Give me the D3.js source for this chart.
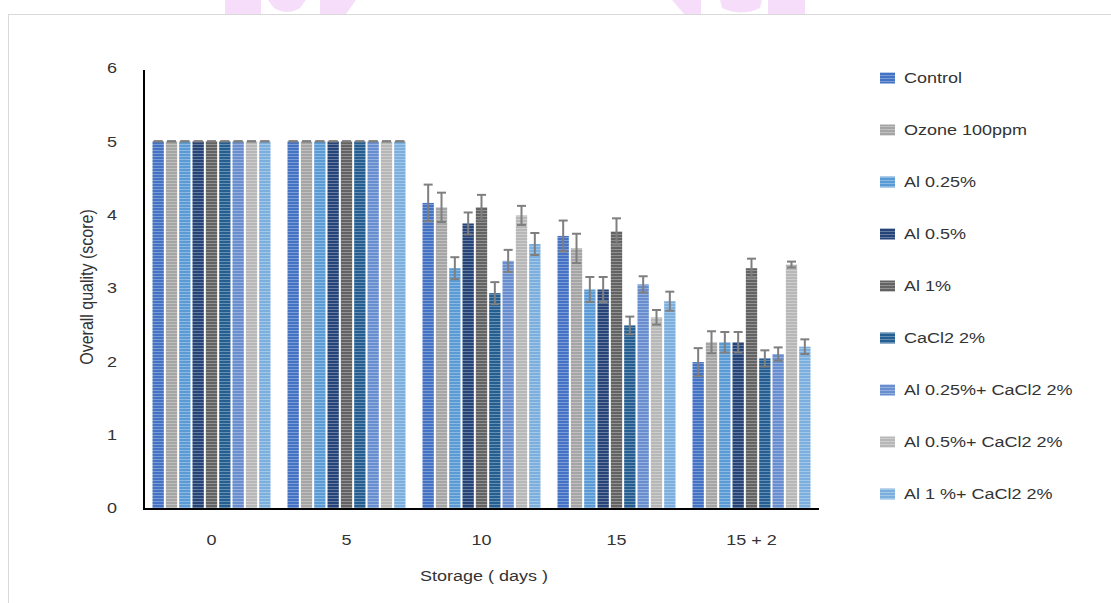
<!DOCTYPE html>
<html>
<head>
<meta charset="utf-8">
<script src="https://cdn.jsdelivr.net/npm/d3@7"></script>
<style>
  body { margin: 0; background: #fff; }
  text { font-family: "Liberation Sans", Arial, sans-serif; fill: #333; }
</style>
</head>
<body>
<svg id="chart" width="1111" height="603"></svg>
<script>
// storage days on the x axis
const days = ["0", "5", "10", "15", "15 + 2"];
const treatments = ["Control", "Ozone 100ppm", "Al 0.25%", "Al 0.5%", "Al 1%",
                    "CaCl2 2%", "Al 0.25%+ CaCl2 2%", "Al 0.5%+ CaCl2 2%", "Al 1 %+ CaCl2 2%"];
const colors = ["#4472c4", "#a5a5a5", "#5b9bd5", "#264478", "#636363",
                "#255e91", "#698ed0", "#b7b7b7", "#7cafdd"];

// mean scores per treatment, one value per storage day
const control     = [5, 5, 4.16, 3.71, 1.99];
const ozone       = [5, 5, 4.10, 3.54, 2.26];
const al025       = [5, 5, 3.27, 2.98, 2.26];
const al05        = [5, 5, 3.88, 2.98, 2.26];
const al1         = [5, 5, 4.10, 3.77, 3.27];
const cacl2       = [5, 5, 2.93, 2.49, 2.04];
const al025Ca     = [5, 5, 3.37, 3.05, 2.10];
const al05Ca      = [5, 5, 3.99, 2.60, 3.32];
const al1Ca       = [5, 5, 3.60, 2.82, 2.20];

// error bars (+/-)
const controlErr  = [0, 0, 0.25, 0.21, 0.19];
const ozoneErr    = [0, 0, 0.20, 0.20, 0.15];
const al025Err    = [0, 0, 0.15, 0.17, 0.14];
const al05Err     = [0, 0, 0.15, 0.17, 0.14];
const al1Err      = [0, 0, 0.17, 0.18, 0.13];
const cacl2Err    = [0, 0, 0.15, 0.12, 0.11];
const al025CaErr  = [0, 0, 0.15, 0.11, 0.09];
const al05CaErr   = [0, 0, 0.13, 0.10, 0.04];
const al1CaErr    = [0, 0, 0.15, 0.13, 0.10];

const yTicks = [0, 1, 2, 3, 4, 5, 6];

const means = [control, ozone, al025, al05, al1, cacl2, al025Ca, al05Ca, al1Ca];
const errs = [controlErr, ozoneErr, al025Err, al05Err, al1Err, cacl2Err, al025CaErr, al05CaErr, al1CaErr];

const SX = 1.2; // text in the source is stretched sideways

const svg = d3.select("#chart");

// faint watermark shapes peeking above the frame
const wm = svg.append("g").attr("fill", "#f6defb");
[
  "M225,0 L261,0 L261,14 L225,14 Z",
  "M268,0 L306,0 L300,8 Q287,16 274,8 Z",
  "M320,0 L356,0 L346,14 L320,14 Z",
  "M672,0 L701,0 L701,14 L684,14 Z",
  "M720,0 L762,0 L760,8 Q741,17 722,8 Z",
  "M768,0 L805,0 L805,14 L768,14 Z"
].forEach(d => wm.append("path").attr("d", d));

// outer frame
svg.append("rect")
  .attr("x", 8.5).attr("y", 14.5)
  .attr("width", 1200).attr("height", 700)
  .attr("fill", "none").attr("stroke", "#d9d9d9");

// striped fills
const defs = svg.append("defs");
colors.forEach((c, i) => {
  let p = defs.append("pattern")
    .attr("id", "st" + i)
    .attr("patternUnits", "userSpaceOnUse")
    .attr("width", 6).attr("height", 3);
  p.append("rect").attr("width", 6).attr("height", 3).attr("fill", c);
  p.append("rect").attr("width", 6).attr("height", 1)
    .attr("fill", d3.interpolateRgb(c, "#ffffff")(0.3));
});

const x = d3.scaleBand().domain(days).range([144, 819])
  .paddingInner(0.126).paddingOuter(0.063);
const xi = d3.scaleBand().domain(d3.range(treatments.length))
  .range([0, x.bandwidth()]).paddingInner(0.15);
const y = d3.scaleLinear().domain([0, 6]).range([508, 68]);

// bars
means.forEach((vals, i) => {
  svg.append("g").selectAll("rect")
    .data(vals)
    .join("rect")
    .attr("x", (d, j) => x(days[j]) + xi(i))
    .attr("y", d => y(d))
    .attr("width", xi.bandwidth())
    .attr("height", d => y(0) - y(d))
    .attr("fill", "url(#st" + i + ")");
});

// error bars
means.forEach((vals, i) => {
  let g = svg.append("g").attr("stroke", "#7f7f7f").attr("stroke-width", 2);
  vals.forEach((v, j) => {
    let cx = x(days[j]) + xi(i) + xi.bandwidth() / 2;
    let e = errs[i][j];
    g.append("line").attr("x1", cx).attr("x2", cx)
      .attr("y1", y(v + e)).attr("y2", y(v - e));
    g.append("line").attr("x1", cx - 4.5).attr("x2", cx + 4.5)
      .attr("y1", y(v + e)).attr("y2", y(v + e));
    g.append("line").attr("x1", cx - 4.5).attr("x2", cx + 4.5)
      .attr("y1", y(v - e)).attr("y2", y(v - e));
  });
});

// y axis
const yAxis = svg.append("g")
  .attr("transform", "translate(144,0)")
  .call(d3.axisLeft(y).tickValues(yTicks).tickFormat(d3.format("d"))
    .tickSize(0).tickPadding(27));
yAxis.select(".domain").attr("stroke", "#000").attr("stroke-width", 2)
  .attr("d", "M0," + y(0) + "V70");
yAxis.selectAll(".tick text")
  .attr("font-size", 15).attr("fill", "#333")
  .attr("x", -27 / SX)
  .attr("transform", "scale(" + SX + ",1)");

// x axis
const xAxis = svg.append("g")
  .attr("transform", "translate(0,509)")
  .call(d3.axisBottom(x).tickSize(0).tickPadding(25));
xAxis.select(".domain").attr("stroke", "#000").attr("stroke-width", 2)
  .attr("d", "M143,0H819");
xAxis.selectAll(".tick text")
  .attr("font-size", 15).attr("fill", "#333")
  .attr("transform", "scale(" + SX + ",1)");

// axis titles
svg.append("text")
  .attr("transform", "translate(86,287) scale(" + SX + ",1) rotate(-90)")
  .attr("text-anchor", "middle").attr("dy", "0.35em")
  .attr("font-size", 16)
  .text("Overall quality (score)");

svg.append("text")
  .attr("transform", "translate(484,581) scale(" + SX + ",1)")
  .attr("text-anchor", "middle")
  .attr("font-size", 15)
  .text("Storage ( days )");

// legend
const legend = svg.append("g");
treatments.forEach((t, i) => {
  let ly = 78 + i * 52;
  legend.append("rect")
    .attr("x", 880).attr("y", ly - 5.5)
    .attr("width", 15).attr("height", 11)
    .attr("fill", "url(#st" + i + ")");
  legend.append("text")
    .attr("transform", "translate(904," + ly + ") scale(" + SX + ",1)")
    .attr("dy", "0.35em")
    .attr("font-size", 15)
    .text(t);
});
</script>
</body>
</html>
